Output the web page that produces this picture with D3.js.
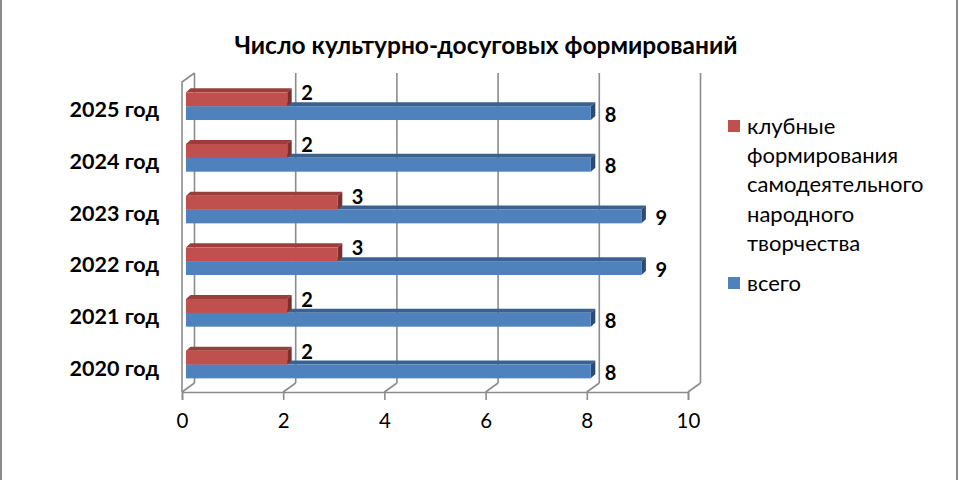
<!DOCTYPE html>
<html>
<head>
<meta charset="utf-8">
<script src="https://cdn.jsdelivr.net/npm/d3@7"></script>
<style>
  body { margin: 0; background: #fff; }
  svg { display: block; font-family: Lato, 'Open Sans', sans-serif; }
</style>
</head>
<body>
<div id="chart"></div>
<script>
// data
let categories = ['2020 год', '2021 год', '2022 год', '2023 год', '2024 год', '2025 год']
let clubValues = [2, 2, 3, 3, 2, 2]   // клубные формирования
let totalValues = [8, 8, 9, 9, 8, 8]  // всего
let seriesNames = ['клубные формирования самодеятельного народного творчества', 'всего']
let legendLines = [['клубные', 'формирования', 'самодеятельного', 'народного', 'творчества'], ['всего']]
let xTicks = [0, 2, 4, 6, 8, 10]
let title = 'Число культурно-досуговых формирований'

let svgWidth = 960,
    svgHeight = 480

let colors = {
    club: { front: '#C0504D', top: '#9B3D3A', side: '#7E2F2D' },
    total: { front: '#4F81BD', top: '#3A6291', side: '#2C4B72' }
}

let gridColor = '#8C8C8C'

// depth of the 3d box and of the bars
let wall = { dx: 12.5, dy: -9 }
let barShift = { dx: 4, dy: 0 }
let barDepth = { dx: 4.5, dy: -4 }

let svg = d3.select('#chart')
    .append('svg')
    .attr('width', svgWidth)
    .attr('height', svgHeight)

let x = d3.scaleLinear()
    .domain([0, 10])
    .range([182, 688])

// 2025 at the top
let y = d3.scaleBand()
    .domain(categories.slice().reverse())
    .range([82, 392])

let floorY = 392

// frame (left and right edges of the chart area)
svg.append('rect')
    .attr('x', 1)
    .attr('y', -10)
    .attr('width', 956)
    .attr('height', svgHeight + 20)
    .attr('fill', 'none')
    .attr('stroke', '#8a8a8a')
    .attr('stroke-width', 2)

svg.append('text')
    .attr('x', 486)
    .attr('y', 54)
    .attr('text-anchor', 'middle')
    .attr('font-weight', 'bold')
    .attr('font-size', 24.5)
    .text(title)

let box = svg.append('g')
    .attr('fill', 'none')
    .attr('stroke', gridColor)
    .attr('stroke-width', 1.6)

// back wall gridlines
box.selectAll('.grid')
    .data(xTicks)
    .enter().append('line')
    .attr('class', 'grid')
    .attr('x1', d => x(d) + wall.dx)
    .attr('x2', d => x(d) + wall.dx)
    .attr('y1', y.range()[0] + wall.dy)
    .attr('y2', floorY + wall.dy)

// floor diagonals
box.selectAll('.diag')
    .data(xTicks)
    .enter().append('line')
    .attr('class', 'diag')
    .attr('x1', d => x(d))
    .attr('x2', d => x(d) + wall.dx)
    .attr('y1', floorY)
    .attr('y2', floorY + wall.dy)

// left wall
box.append('path')
    .attr('d', `M${x(0)},${floorY}V${y.range()[0]}l${wall.dx},${wall.dy}`)

// x axis on the front edge of the floor
let xAxis = svg.append('g')
    .attr('transform', `translate(0,${floorY})`)
    .call(d3.axisBottom(x).tickValues(xTicks).tickSize(8).tickPadding(13))

xAxis.select('.domain').attr('stroke', gridColor).attr('stroke-width', 1.6)
xAxis.selectAll('.tick line').attr('stroke', gridColor).attr('stroke-width', 1.6)
xAxis.selectAll('.tick text')
    .attr('font-family', 'Lato, sans-serif')
    .attr('font-size', 20.5)
    .attr('fill', '#000')

// category labels
svg.selectAll('.cat')
    .data(categories)
    .enter().append('text')
    .attr('class', 'cat')
    .attr('x', 159)
    .attr('y', d => y(d) + y.bandwidth() / 2 + 2)
    .attr('dy', '0.35em')
    .attr('text-anchor', 'end')
    .attr('font-weight', 'bold')
    .attr('font-size', 21.5)
    .text(d => d)

// bars: top category drawn first so lower ones sit in front
let barH = y.bandwidth() * 0.268
let rows = categories.map((c, i) => ({ cat: c, club: clubValues[i], total: totalValues[i] })).reverse()

function drawBar(g, y0, v, col) {
    let x0 = x(0) + barShift.dx,
        x1 = x(v) + barShift.dx
    g.append('path')
        .attr('fill', col.top)
        .attr('d', `M${x0},${y0}L${x1},${y0}l${barDepth.dx},${barDepth.dy}L${x0 + barDepth.dx},${y0 + barDepth.dy}Z`)
    g.append('path')
        .attr('fill', col.side)
        .attr('d', `M${x1},${y0}l${barDepth.dx},${barDepth.dy}v${barH}l${-barDepth.dx},${-barDepth.dy}Z`)
    g.append('rect')
        .attr('x', x0)
        .attr('y', y0)
        .attr('width', x1 - x0)
        .attr('height', barH)
        .attr('fill', col.front)
}

let barGroups = svg.selectAll('.row')
    .data(rows)
    .enter().append('g')
    .attr('class', 'row')

barGroups.each(function(d) {
    let g = d3.select(this)
    let clubY = y(d.cat) + y.bandwidth() * 0.2,
        totalY = clubY + barH
    drawBar(g, totalY, d.total, colors.total)
    drawBar(g, clubY, d.club, colors.club)

    g.append('text')
        .attr('x', x(d.club) + barShift.dx + 14)
        .attr('y', clubY + 1)
        .attr('dy', '0.35em')
        .attr('font-weight', 'bold')
        .attr('font-size', 20)
        .text(d.club)

    g.append('text')
        .attr('x', x(d.total) + barShift.dx + 14)
        .attr('y', totalY + barH / 2 + 1.5)
        .attr('dy', '0.35em')
        .attr('font-weight', 'bold')
        .attr('font-size', 20)
        .text(d.total)
})

// legend
let legend = svg.append('g')
    .attr('class', 'legend')
    .attr('font-size', 22)

let legendData = [
    { name: seriesNames[0], lines: legendLines[0], fill: colors.club.front, y: 126 },
    { name: seriesNames[1], lines: legendLines[1], fill: colors.total.front, y: 283 }
]

let keys = legend.selectAll('.key')
    .data(legendData)
    .enter().append('g')
    .attr('class', 'key')

keys.append('rect')
    .attr('x', 728)
    .attr('y', d => d.y - 6)
    .attr('width', 12)
    .attr('height', 12)
    .attr('fill', d => d.fill)

keys.append('text')
    .attr('x', 747)
    .attr('y', d => d.y)
    .selectAll('tspan')
    .data(d => d.lines)
    .enter().append('tspan')
    .attr('x', 747)
    .attr('dy', (d, i) => i === 0 ? '0.35em' : 29.3)
    .text(d => d)
</script>
</body>
</html>
